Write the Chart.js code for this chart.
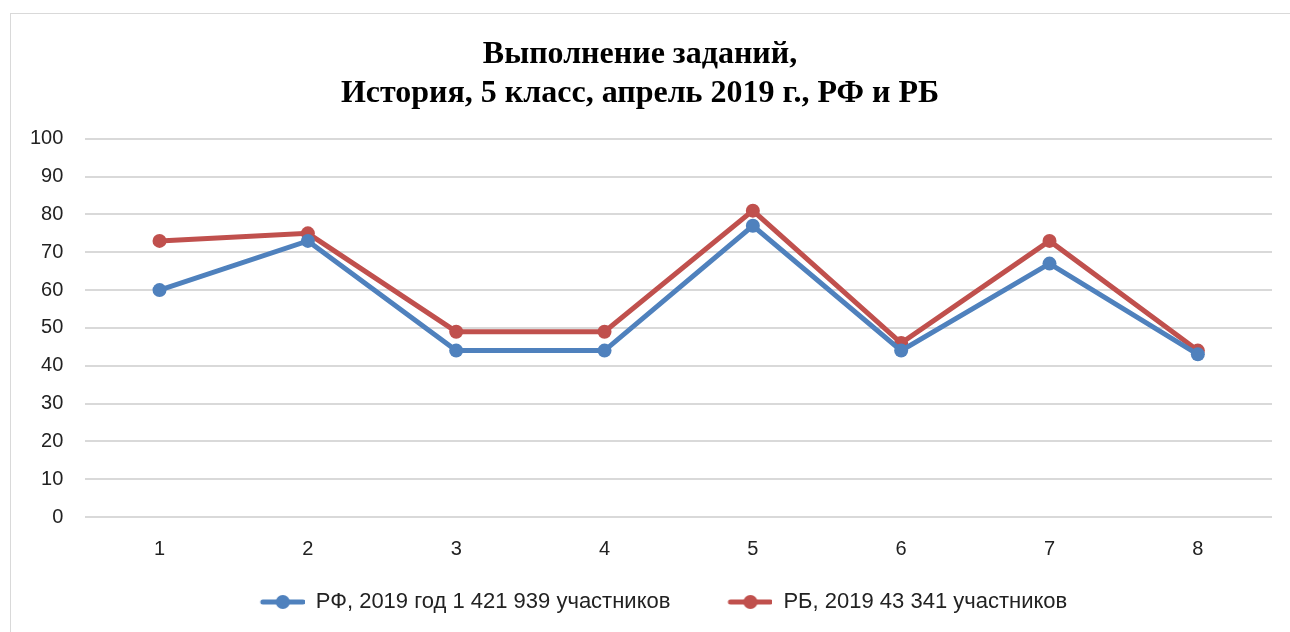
<!DOCTYPE html>
<html>
<head>
<meta charset="utf-8">
<script src="https://cdn.jsdelivr.net/npm/chart.js@4"></script>
<style>
  body { margin: 0; background: #fff; }
  #frame { position: absolute; left: 10px; top: 13px; width: 1300px; height: 640px; border: 1px solid #d9d9d9; }
  #wrap { position: absolute; left: 0; top: 0; width: 1290px; height: 632px; }
</style>
</head>
<body>
<div id="frame"></div>
<div id="wrap"><canvas id="chart"></canvas></div>
<script>
// данные
var tasks = ["1", "2", "3", "4", "5", "6", "7", "8"];
var rfValues = [60, 73, 44, 44, 77, 44, 67, 43];
var rbValues = [73, 75, 49, 49, 81, 46, 73, 44];
var rfLabel = "РФ, 2019 год 1 421 939 участников";
var rbLabel = "РБ, 2019 43 341 участников";
var titleLines = ["Выполнение заданий,", "История, 5 класс, апрель 2019 г., РФ и РБ"];

var blue = "#4F81BD", red = "#C0504D";
var iconW = 92; // пустое место слева = отступ между элементами легенды

// маркер легенды: линия с кружком, прижатый вправо
function legendIcon(color) {
    var c = document.createElement("canvas");
    c.width = iconW; c.height = 16;
    var g = c.getContext("2d");
    g.strokeStyle = color; g.lineWidth = 5; g.lineCap = "round";
    g.beginPath(); g.moveTo(iconW - 42, 8); g.lineTo(iconW - 2, 8); g.stroke();
    g.fillStyle = color;
    g.beginPath(); g.arc(iconW - 22, 8, 7, 0, Math.PI * 2); g.fill();
    return c;
}

var ctx = document.getElementById("chart").getContext("2d");
var chart = new Chart(ctx, {
    type: "line",
    data: {
        labels: tasks,
        datasets: [{
            label: rfLabel,
            data: rfValues,
            borderColor: blue,
            backgroundColor: blue,
            borderWidth: 5,
            pointRadius: 7,
            pointBackgroundColor: blue,
            pointBorderWidth: 0,
            pointStyle: "circle"
        }, {
            label: rbLabel,
            data: rbValues,
            borderColor: red,
            backgroundColor: red,
            borderWidth: 5,
            pointRadius: 7,
            pointBackgroundColor: red,
            pointBorderWidth: 0,
            pointStyle: "circle"
        }]
    },
    options: {
        responsive: true,
        maintainAspectRatio: false,
        animation: false,
        layout: { padding: { left: 8, right: 18, top: 36, bottom: 9 } },
        plugins: {
            title: {
                display: true,
                text: titleLines,
                color: "#000",
                font: { family: "Liberation Serif", size: 32, weight: "bold", lineHeight: 1.2 },
                padding: { top: 0, bottom: 26 }
            },
            legend: {
                position: "bottom",
                labels: {
                    color: "#222",
                    font: { family: "Liberation Sans", size: 22 },
                    usePointStyle: true,
                    pointStyleWidth: iconW,
                    boxHeight: 16,
                    padding: 10,
                    generateLabels: function (ch) {
                        return ch.data.datasets.map(function (ds, i) {
                            return {
                                text: ds.label,
                                pointStyle: legendIcon(ds.borderColor),
                                datasetIndex: i,
                                fontColor: "#222",
                                lineWidth: 0,
                                strokeStyle: "transparent",
                                fillStyle: ds.borderColor
                            };
                        });
                    }
                }
            },
            tooltip: { enabled: false }
        },
        scales: {
            x: {
                offset: true,
                grid: { display: false, drawTicks: false },
                border: { display: false },
                ticks: { color: "#222", font: { family: "Liberation Sans", size: 20 }, padding: 20 }
            },
            y: {
                min: 0, max: 100,
                grid: { color: "#d9d9d9", lineWidth: 2, drawTicks: false },
                border: { display: false },
                ticks: { stepSize: 10, color: "#222", font: { family: "Liberation Sans", size: 20 }, padding: 22 }
            }
        }
    }
});
</script>
</body>
</html>
